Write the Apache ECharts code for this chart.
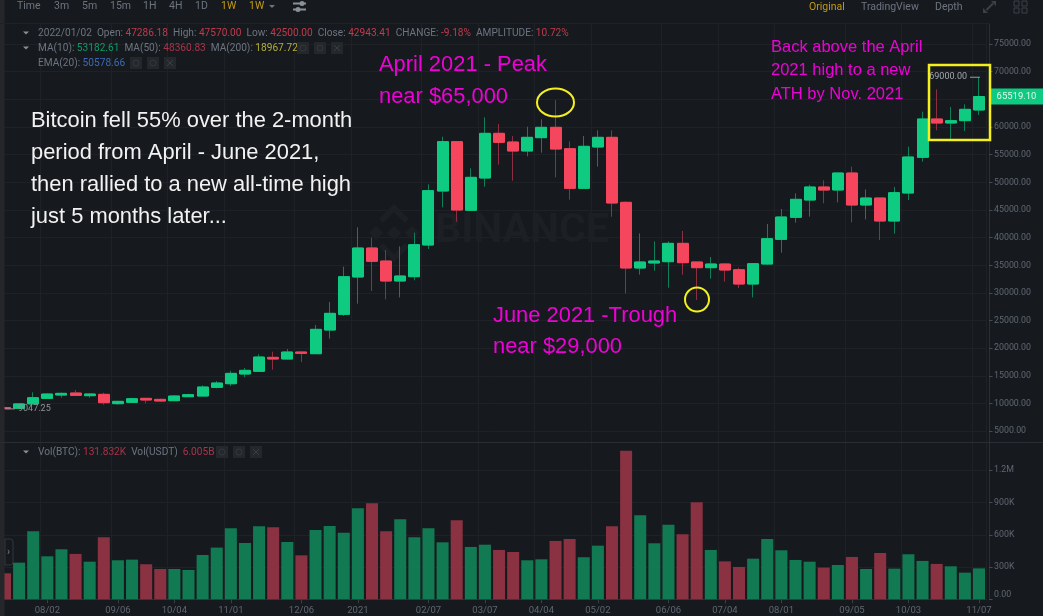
<!DOCTYPE html>
<html><head><meta charset="utf-8">
<style>html,body{margin:0;padding:0;background:#161a1e}#c{width:1043px;height:616px}</style>
<script src="https://cdn.jsdelivr.net/npm/echarts@6/dist/echarts.min.js"></script>
</head><body><div id="c"></div>
<script>
const categories = ['07/12','07/19','07/26','08/02','08/09','08/16','08/23','08/30','09/06','09/13','09/20','09/27','10/04','10/11','10/18','10/25','11/01','11/08','11/15','11/22','11/29','12/06','12/13','12/20','12/27','2021','01/10','01/17','01/24','01/31','02/07','02/14','02/21','02/28','03/07','03/14','03/21','03/28','04/04','04/11','04/18','04/25','05/02','05/09','05/16','05/23','05/30','06/06','06/13','06/20','06/27','07/04','07/11','07/18','07/25','08/01','08/08','08/15','08/22','08/29','09/05','09/12','09/19','09/26','10/03','10/10','10/17','10/24','10/31','11/07'];
const tickLabels = ['08/02','09/06','10/04','11/01','12/06','2021','02/07','03/07','04/04','05/02','06/06','07/04','08/01','09/05','10/03','11/07'];
const opens = [9300,9150,9950,10951,11554,11915,11434,11675,9988,10228,10951,10770,10530,11252,11373,12940,13600,15350,15830,18364,18063,19328,19026,23305,26136,32887,38129,35778,32163,32947,38671,48434,57352,44938,50784,58858,57292,55665,58075,59943,56086,48915,56388,58135,46385,34513,35417,35658,38972,35598,34573,35236,34212,31620,35236,39695,43673,46806,49156,48614,51687,45902,47168,43010,48071,54519,61449,60726,61148,63076];
const closes = [9100,9950,11070,11735,11855,11493,11735,10168,10410,10891,10650,10470,11373,11615,13000,13724,15470,16013,18424,18063,19328,19087,23425,26318,32946,38129,35718,32163,33067,38731,48494,57352,45000,50904,58858,57231,55665,58135,59943,56026,48915,56508,58135,46264,34513,35598,35778,38972,35477,34573,35236,34151,31620,35296,39816,43733,46927,49156,48614,51687,45902,47168,43010,48132,54579,61449,60726,61148,63197,65519.1];
const highs = [9450,9980,12046,11850,11975,12458,11855,11975,10500,11070,11000,10900,11500,11800,13300,14085,15950,16434,18906,19388,19870,19400,24208,28366,34754,41865,39997,37767,38430,40901,49639,58256,57400,52531,61751,60546,58376,60064,61389,64854,57412,58376,59401,59401,46565,40780,39334,39334,41202,35598,36501,35357,34573,35357,42467,45179,48011,49578,50362,51687,52832,48735,47168,49156,56448,62775,66812,63618,64101,69000];
const lows = [9047.25,9100,9950,10900,11070,11373,11070,9806,9806,10100,10050,10350,10450,11200,11300,12758,13180,14750,15770,16134,18000,17520,19000,21737,25835,28065,30355,28849,29210,32283,37948,45480,42890,44900,49217,53194,50302,54700,55363,50904,46866,48795,52832,43793,29934,33308,34032,30958,33308,28728,32585,32043,30898,29210,35116,37285,42708,43793,46203,46384,42769,43311,39575,40720,46806,53736,59400,57773,59280,62172];
const volumes = [242,341,632,400,465,422,350,577,363,369,326,282,282,273,412,481,660,524,679,670,533,409,645,682,620,846,893,632,744,577,660,530,735,487,508,459,440,363,372,543,561,391,499,679,1383,781,521,694,605,902,459,353,301,378,561,456,366,350,295,319,394,282,431,285,419,357,329,307,248,288].map(v => v * 1000);
const priceTicks = [5000,10000,15000,20000,25000,30000,35000,40000,45000,50000,55000,60000,65000,70000,75000];
const volumeTicks = [0,300000,600000,900000,1200000];
const volumeTickNames = {0:'0.00',300000:'300K',600000:'600K',900000:'900K',1200000:'1.2M'};
const whiteNote = ['Bitcoin fell 55% over the 2-month','period from April - June 2021,','then rallied to a new all-time high','just 5 months later...'];

const UP='#0ecb81', DOWN='#f6465d', UPW='#0f7f58', DOWNW='#8e2f41', UPV='#127a53', DOWNV='#8a3241';
const GRID='#1e2227', AX='#2b3036', TXT='#5f6672', UI='#6d7480', MAG='#f000d8', YEL='#f4f01e';
const FONT='Roboto, sans-serif', NOTE='"Liberation Sans", Arial, sans-serif';
const chart = echarts.init(document.getElementById('c'), null, {renderer:'canvas'});
const xBase = {type:'category',data:categories,boundaryGap:true,
  axisLine:{show:false},
  axisTick:{show:false,alignWithLabel:true,interval:(i,v)=>tickLabels.includes(v)},
  axisLabel:{show:false,interval:(i,v)=>tickLabels.includes(v)},
  splitLine:{show:true,interval:(i,v)=>tickLabels.includes(v),lineStyle:{color:GRID,width:1}}};
const option = {
  animation:false, backgroundColor:'#161a1e',
  grid:[{left:-2.07,width:988.14,top:24,height:418,outerBoundsMode:'none'},{left:-2.07,width:988.14,top:443,height:156.3,outerBoundsMode:'none'}],
  xAxis:[Object.assign({},xBase,{gridIndex:0}),
    Object.assign({},xBase,{gridIndex:1,
      axisLine:{show:true,lineStyle:{color:AX}},
      axisTick:{show:true,alignWithLabel:true,length:4,lineStyle:{color:'#3a3f46'},interval:(i,v)=>tickLabels.includes(v)},
      axisLabel:{show:true,margin:6,fontSize:9.5,color:TXT,fontFamily:FONT,interval:(i,v)=>tickLabels.includes(v),hideOverlap:false,showMaxLabel:true}})],
  yAxis:[
   {type:'value',gridIndex:0,position:'right',offset:3,
    min:70000-(442-71.7)/0.005532,max:70000+(71.7-24)/0.005532,scale:true,
    axisLine:{show:true,lineStyle:{color:AX}},
    axisTick:{show:true,length:3.5,lineStyle:{color:'#454a52'},customValues:priceTicks},
    axisLabel:{margin:5,fontSize:8.8,color:TXT,fontFamily:FONT,customValues:priceTicks,formatter:v=>v.toFixed(2)},
    splitLine:{show:true,lineStyle:{color:GRID}}},
   {type:'value',gridIndex:1,position:'right',offset:3,min:0,max:1454000,
    axisLine:{show:true,lineStyle:{color:AX}},
    axisTick:{show:true,length:3.5,lineStyle:{color:'#454a52'},customValues:volumeTicks},
    axisLabel:{margin:5,fontSize:8.8,color:TXT,fontFamily:FONT,customValues:volumeTicks,verticalAlignMinLabel:'bottom',formatter:v=>volumeTickNames[v]},
    splitLine:{show:true,lineStyle:{color:GRID}}}],
  series:[
   {name:'wick',type:'candlestick',xAxisIndex:0,yAxisIndex:0,barWidth:10,
    itemStyle:{color:UPW,color0:DOWNW,borderColor:UPW,borderColor0:DOWNW,borderWidth:1},
    data:categories.map((c,i)=>[opens[i],closes[i],lows[i],highs[i]])},
   {name:'body',type:'candlestick',xAxisIndex:0,yAxisIndex:0,barWidth:11.5,
    itemStyle:{color:UP,color0:DOWN,borderColor:UP,borderColor0:DOWN,borderWidth:1},
    data:categories.map((c,i)=>[opens[i],closes[i],Math.min(opens[i],closes[i]),Math.max(opens[i],closes[i])])},
   {name:'vol',type:'bar',xAxisIndex:1,yAxisIndex:1,barWidth:12,
    data:volumes.map((v,i)=>({value:v,itemStyle:{color:closes[i]>=opens[i]?UPV:DOWNV}}))}
  ]
};
chart.setOption(option);

const py = v => chart.convertToPixel({yAxisIndex:0},v);
const T=(x,y,text,fill,font,extra)=>({type:'text',x,y,z:100,style:Object.assign({text,fill,font:font||('10.13px '+FONT),textVerticalAlign:'middle'},extra||{})});
const R=(x,y,w,h,fill,extra)=>Object.assign({type:'rect',z:100,shape:{x,y,width:w,height:h},style:{fill}},extra||{});
const L=(x1,y1,x2,y2,stroke,lw,z)=>({type:'line',z:z===undefined?100:z,shape:{x1,y1,x2,y2},style:{stroke,lineWidth:lw||1}});
const tri=(x,y,fill)=>({type:'polygon',z:100,shape:{points:[[x-3,y-1.5],[x+3,y-1.5],[x,y+1.5]]},style:{fill}});
const icons=(x,y)=>{
  const out=[];
  [0,1,2].forEach(k=>out.push(R(x+k*17,y-6,12,12,'#24282d')));
  out.push({type:'circle',z:101,shape:{cx:x+6,cy:y,r:3},style:{fill:'none',stroke:'#33383e',lineWidth:1}});
  out.push({type:'circle',z:101,shape:{cx:x+23,cy:y,r:3},style:{fill:'none',stroke:'#33383e',lineWidth:1}});
  out.push(L(x+37,y-3,x+43,y+3,'#3a3f45',1),L(x+43,y-3,x+37,y+3,'#3a3f45',1));
  return out;
};
const F='10.13px '+FONT;
const rich={g:{fill:UI,font:F},r:{fill:'#c23a4c',font:F},n:{fill:'#0f9a68',font:F},d:{fill:'#a8344a',font:F},y:{fill:'#b5ae3a',font:F},b:{fill:'#3f68b8',font:F}};
const els=[];
// frame
els.push(R(0,0,4.5,616,'#24262a'));
els.push(L(0,23.5,989,23.5,'#1e2227',1));
els.push(L(0,442.5,1043,442.5,'#2a2e34',1));
// toolbar
[['Time',17,UI],['3m',54,UI],['5m',82,UI],['15m',110,UI],['1H',143,UI],['4H',169,UI],['1D',195,UI],['1W',221,'#c29a14'],['1W',249,'#c29a14']].forEach(a=>els.push(T(a[1],6.5,a[0],a[2],'10.5px '+FONT)));
els.push(tri(272,6.5,UI));
els.push(L(293,3.5,306,3.5,'#8a9099',2),L(293,9.5,306,9.5,'#8a9099',2));
els.push({type:'circle',z:100,shape:{cx:302,cy:3.5,r:2.5},style:{fill:'#8a9099'}},{type:'circle',z:100,shape:{cx:298,cy:9.5,r:2.5},style:{fill:'#8a9099'}});
els.push(T(809,7,'Original','#c29a14','10.5px '+FONT),T(861,7,'TradingView',UI,'10.5px '+FONT),T(935,7,'Depth',UI,'10.5px '+FONT));
els.push(L(986.5,10,993,3.5,'#3c4148',2));
els.push({type:'polygon',z:100,shape:{points:[[996,1],[996,6],[991,1]]},style:{fill:'#3c4148'}},{type:'polygon',z:100,shape:{points:[[983,13],[983,8],[988,13]]},style:{fill:'#3c4148'}});
[[1014,1],[1022,1],[1014,8],[1022,8]].forEach(p=>els.push(R(p[0],p[1],5,5,'none',{style:{fill:'none',stroke:'#3c4148',lineWidth:1}})));
// info
els.push(tri(26,33,'#8a9099'),tri(26,48,'#8a9099'),tri(26,452,'#8a9099'));
els.push(T(38,33,'{g|2022/01/02  Open: }{r|47286.18}{g|  High: }{r|47570.00}{g|  Low: }{r|42500.00}{g|  Close: }{r|42943.41}{g|  CHANGE: }{r|-9.18%}{g|  AMPLITUDE: }{r|10.72%}',UI,null,{rich}));
els.push(T(38,48,'{g|MA(10): }{n|53182.61}{g|  MA(50): }{d|48360.83}{g|  MA(200): }{y|18967.72}',UI,null,{rich}));
els.push(T(38,63,'{g|EMA(20): }{b|50578.66}',UI,null,{rich}));
els.push(T(38,452,'{g|Vol(BTC): }{d|131.832K}{g|  Vol(USDT)  }{d|6.005B}',UI,null,{rich}));
els.push(...icons(297,48),...icons(130,63),...icons(216,452));
// side tab
els.push(R(5,539,8,26,'#161a1e',{shape:{x:5,y:539,width:8,height:26,r:[0,3,3,0]},style:{fill:'#161a1e',stroke:'#33373d',lineWidth:1}}));
els.push(T(7,552,'›','#7a808a','10px '+FONT));
// watermark
els.push({type:'text',z:0,x:435,y:232,style:{text:'BINANCE',fill:'#1c2025',font:'bold 41px '+FONT,textVerticalAlign:'middle'}});
const wm=(cx,cy,r)=>({type:'polygon',z:0,shape:{points:[[cx-r,cy],[cx,cy-r],[cx+r,cy],[cx,cy+r]]},style:{fill:'#1c2025'}});
els.push(wm(394,233,7),wm(376,233,7),wm(412,233,7));
els.push({type:'polyline',z:0,shape:{points:[[381,221],[394,208],[407,221]]},style:{stroke:'#1c2025',lineWidth:6,fill:'none'}});
els.push({type:'polyline',z:0,shape:{points:[[381,245],[394,258],[407,245]]},style:{stroke:'#1c2025',lineWidth:6,fill:'none'}});
// price markers
const yLast=py(closes[69]), yHi=py(highs[69]), yLo=py(lows[0]);
els.push(R(990,yLast-8,53,16,UP));
els.push(T(1016.5,yLast,closes[69].toFixed(2),'#e4f7ef','9.5px '+FONT,{align:'center'}));
els.push(L(970,yHi,980,yHi,'#9a9ea4',1),T(967,yHi,highs[69].toFixed(2),'#a3a7ad','9px '+FONT,{align:'right'}));
els.push(L(5,yLo,15,yLo,'#8f9399',1),T(18,yLo,lows[0].toFixed(2),'#8f9399','9px '+FONT));
// annotations
whiteNote.forEach((s,i)=>els.push(T(31,121+i*32,s,'#f2f2f2','21.9px '+NOTE)));
els.push(T(379,65,'April 2021 - Peak',MAG,'21.9px '+NOTE),T(379,97,'near $65,000',MAG,'21.9px '+NOTE));
els.push(T(493,316,'June 2021 -Trough',MAG,'21.9px '+NOTE),T(493,347,'near $29,000',MAG,'21.9px '+NOTE));
['Back above the April','2021 high to a new','ATH by Nov. 2021'].forEach((s,i)=>els.push(T(771,47+i*23.5,s,MAG,'16.5px '+NOTE)));
els.push({type:'ellipse',z:100,shape:{cx:555.5,cy:102.5,rx:18.5,ry:14},style:{fill:'none',stroke:YEL,lineWidth:2}});
els.push({type:'circle',z:100,shape:{cx:697,cy:299.5,r:12},style:{fill:'none',stroke:YEL,lineWidth:2}});
els.push(R(929,65,61,75,'none',{style:{fill:'none',stroke:YEL,lineWidth:2.5}}));
chart.setOption({graphic:{elements:els}});
</script></body></html>
